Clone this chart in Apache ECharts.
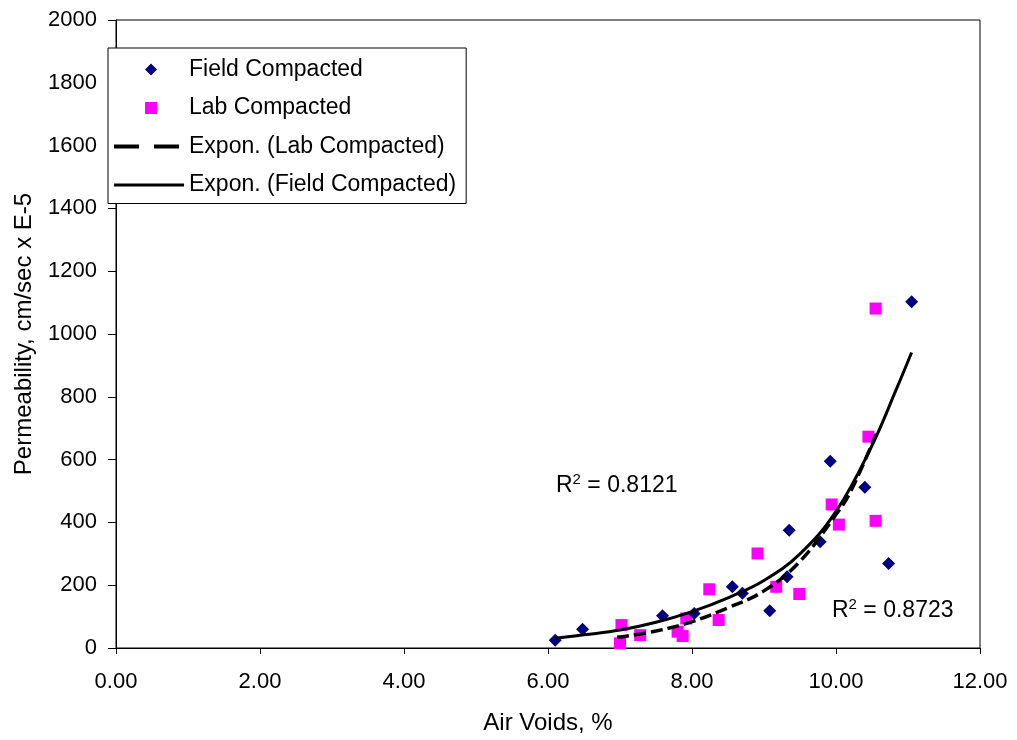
<!DOCTYPE html>
<html>
<head>
<meta charset="utf-8">
<script src="https://cdn.jsdelivr.net/npm/echarts@6/dist/echarts.min.js"></script>
<style>
html,body{margin:0;padding:0;background:#fff;}
#c{width:1017px;height:740px;}
</style>
</head>
<body>
<div id="c"></div>
<script>
// Field compacted measurements (air voids %, permeability)
var fieldX = [6.10, 6.48, 7.59, 8.03, 8.56, 8.70, 9.08, 9.32, 9.35, 9.78, 9.92, 10.40, 10.73, 11.05];
var fieldY = [25, 60, 103, 110, 195, 174, 119, 227, 375, 338, 595, 512, 269, 1103];
// Lab compacted measurements
var labX = [7.00, 7.02, 7.28, 7.80, 7.87, 7.92, 8.24, 8.37, 8.91, 9.17, 9.49, 9.94, 10.04, 10.45, 10.55, 10.55];
var labY = [15, 73, 41, 52, 38, 94, 187, 89, 301, 195, 172, 457, 393, 673, 1081, 405];
// Exponential trend lines
var fieldTrendX = [6.10, 6.5, 7.0, 7.5, 8.0, 8.5, 9.0, 9.5, 10.0, 10.5, 10.84, 11.05];
var fieldTrendY = [31, 42, 57, 82, 116, 160, 215, 300, 435, 645, 825, 941];
var labTrendX = [6.96, 7.5, 8.0, 8.5, 9.0, 9.5, 10.0, 10.2, 10.56];
var labTrendY = [34, 54, 84, 128, 182, 276, 425, 497, 682];
// Axis ticks
var xTicks = [0, 2, 4, 6, 8, 10, 12];
var yTicks = [0, 200, 400, 600, 800, 1000, 1200, 1400, 1600, 1800, 2000];
var r2Field = '0.8121';
var r2Lab = '0.8723';

function pairs(xs, ys){ return xs.map(function(x,i){ return [x, ys[i]]; }); }

var FONT = '"Liberation Sans", Arial, sans-serif';
var diamondIcon = 'path://M0,0 M70,12 M31,6 L37,0 L43,6 L37,12 Z';
var squareIcon = 'path://M0,0 M70,12 M31,0 L43,0 L43,12 L31,12 Z';
var dashIcon = 'path://M0,0 M70,12 M0,4 L25,4 L25,8 L0,8 Z M40,4 L65,4 L65,8 L40,8 Z';
var solidIcon = 'path://M0,0 M70,12 M0,4.5 L70,4.5 L70,7.5 L0,7.5 Z';
var chart = echarts.init(document.getElementById('c'), null, {renderer:'canvas'});
chart.setOption({
  animation: false,
  backgroundColor: '#fff',
  textStyle: {fontFamily: FONT},
  grid: {left: 116, right: 37, top: 20, bottom: 90, show: true, borderColor: '#000', borderWidth: 1, backgroundColor: 'transparent'},
  xAxis: {
    type: 'value', min: xTicks[0], max: xTicks[xTicks.length-1], interval: 2,
    name: 'Air Voids, %', nameLocation: 'middle', nameGap: 63,
    nameTextStyle: {fontSize: 24, color: '#000', fontFamily: FONT},
    axisLine: {onZero: false, lineStyle: {color: '#000', width: 1}},
    axisTick: {show: true, inside: false, length: 6, lineStyle: {color: '#000'}},
    axisLabel: {fontSize: 22, color: '#000', margin: 23, fontFamily: FONT, formatter: function(v){ return v.toFixed(2); }},
    splitLine: {show: false}
  },
  yAxis: {
    type: 'value', min: yTicks[0], max: yTicks[yTicks.length-1], interval: 200,
    name: 'Permeability, cm/sec x E-5', nameLocation: 'middle', nameGap: 80,
    nameTextStyle: {fontSize: 24, color: '#000', fontFamily: FONT},
    axisLine: {show: true, lineStyle: {color: '#000', width: 1}},
    axisTick: {show: true, inside: false, length: 8, lineStyle: {color: '#000'}},
    axisLabel: {fontSize: 22, color: '#000', margin: 19, fontFamily: FONT, formatter: function(v){ return String(v); }},
    splitLine: {show: false}
  },
  legend: {
    orient: 'vertical', left: 108, top: 48,
    padding: [10, 10, 7, 6],
    itemWidth: 70, itemHeight: 12, itemGap: 15.5,
    backgroundColor: '#fff', borderColor: '#000', borderWidth: 1, borderRadius: 0,
    textStyle: {fontSize: 23, color: '#000', fontFamily: FONT},
    data: [
      {name: 'Field Compacted', icon: diamondIcon},
      {name: 'Lab Compacted', icon: squareIcon},
      {name: 'Expon. (Lab Compacted)', icon: dashIcon},
      {name: 'Expon. (Field Compacted)', icon: solidIcon}
    ]
  },
  series: [
    {
      name: 'Field Compacted', type: 'scatter', symbol: 'diamond', symbolSize: 13,
      itemStyle: {color: '#000080', opacity: 1}, z: 3,
      data: pairs(fieldX, fieldY)
    },
    {
      name: 'Lab Compacted', type: 'scatter', symbol: 'rect', symbolSize: 12,
      itemStyle: {color: '#FF00FF', opacity: 1}, z: 2,
      data: pairs(labX, labY)
    },
    {
      name: 'Expon. (Lab Compacted)', type: 'line', smooth: 0.4, showSymbol: false, symbol: 'none',
      lineStyle: {color: '#000', width: 3.5, type: [12, 5]}, itemStyle: {color: '#000'}, z: 4,
      data: pairs(labTrendX, labTrendY)
    },
    {
      name: 'Expon. (Field Compacted)', type: 'line', smooth: 0.4, showSymbol: false, symbol: 'none',
      lineStyle: {color: '#000', width: 3}, itemStyle: {color: '#000'}, z: 5,
      data: pairs(fieldTrendX, fieldTrendY)
    }
  ],
  graphic: [
    {type: 'text', left: 556, top: 472, z: 10,
     style: {text: '{a|R}{s|2}{a| = ' + r2Field + '}', rich: {a: {fontSize: 23, fontFamily: FONT, fill: '#000', verticalAlign: 'bottom'}, s: {fontSize: 15, fontFamily: FONT, fill: '#000', verticalAlign: 'top', padding: [0,0,10,0]}}}},
    {type: 'text', left: 832, top: 597, z: 10,
     style: {text: '{a|R}{s|2}{a| = ' + r2Lab + '}', rich: {a: {fontSize: 23, fontFamily: FONT, fill: '#000', verticalAlign: 'bottom'}, s: {fontSize: 15, fontFamily: FONT, fill: '#000', verticalAlign: 'top', padding: [0,0,10,0]}}}}
  ]
});
</script>
</body>
</html>
